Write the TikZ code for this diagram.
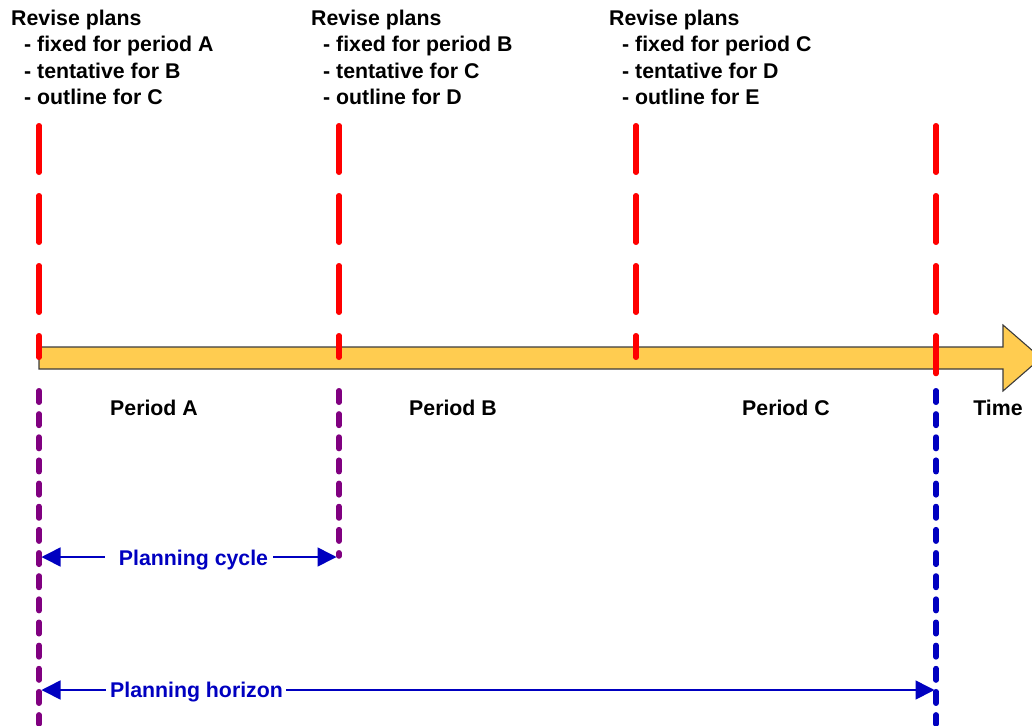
\documentclass[tikz,border=0pt]{standalone}
\usepackage{fontspec}
\setmainfont{Liberation Sans}
\usetikzlibrary{arrows.meta,calc}
\definecolor{arrowfill}{RGB}{255,204,80}
\definecolor{arrowline}{RGB}{60,60,60}
\definecolor{dkblue}{RGB}{0,0,192}
\definecolor{purp}{RGB}{128,0,128}
\begin{document}
\begin{tikzpicture}[x=1pt,y=-1pt,
  font=\fontsize{21.3}{26}\selectfont\bfseries,
  lbl/.style={inner sep=0pt, anchor=base west},
  plbl/.style={inner sep=0pt, anchor=base},
  blbl/.style={inner sep=0pt, anchor=base, text=dkblue},
  reddash/.style={draw=red, line width=5.5pt, line cap=round, dash pattern=on 46.5pt off 23.5pt},
  purpdash/.style={draw=purp, line width=5.5pt, line cap=round, dash pattern=on 11.5pt off 11.65pt},
  bluedash/.style={purpdash, draw=dkblue},
  spanarrow/.style={draw=dkblue, line width=1.6pt, -{Triangle[length=19pt,width=19pt]}},
  timearrow/.style={draw=arrowline, fill=arrowfill, line width=1.1pt, line join=miter}]
\useasboundingbox (0,0) rectangle (1032,725);

% header texts
\node[lbl] (h1a) at (11,26) {Revise plans};
\node[lbl] (h1b) at (24,52) {- fixed for period A};
\node[lbl] (h1c) at (24,78) {- tentative for B};
\node[lbl] (h1d) at (24,104) {- outline for C};
\node[lbl] (h2a) at (311,26) {Revise plans};
\node[lbl] (h2b) at (323,52) {- fixed for period B};
\node[lbl] (h2c) at (323,78) {- tentative for C};
\node[lbl] (h2d) at (323,104) {- outline for D};
\node[lbl] (h3a) at (609,26) {Revise plans};
\node[lbl] (h3b) at (622,52) {- fixed for period C};
\node[lbl] (h3c) at (622,78) {- tentative for D};
\node[lbl] (h3d) at (622,104) {- outline for E};

% time arrow
\draw[timearrow] (39,347) -- (1003,347) -- (1003,325) -- (1041,358)
  -- (1003,391) -- (1003,369) -- (39,369) -- cycle;

% period labels
\node[plbl] (pa) at (154,415) {Period A};
\node[plbl] (pb) at (453,415) {Period B};
\node[plbl] (pc) at (786,415) {Period C};
\node[plbl] (tm) at (998,415) {Time};

% red revision lines
\coordinate (r1t) at (39,125.75);  \coordinate (r1b) at (39,357.25);
\coordinate (r2t) at (339,125.75); \coordinate (r2b) at (339,357.25);
\coordinate (r3t) at (636,125.75); \coordinate (r3b) at (636,357.25);
\coordinate (r4t) at (936,125.75); \coordinate (r4b) at (936,373.5);
\draw[reddash] (r1t) -- (r1b);
\draw[reddash] (r2t) -- (r2b);
\draw[reddash] (r3t) -- (r3b);
\draw[reddash] (r4t) -- (r4b);

% lower lines
\coordinate (p1t) at (39,390.75);  \coordinate (p1b) at (39,724);
\coordinate (p2t) at (339,390.75); \coordinate (p2b) at (339,556);
\coordinate (b1t) at (936,390.75); \coordinate (b1b) at (936,724);
\draw[purpdash] (p1t) -- (p1b);
\draw[purpdash] (p2t) -- (p2b);
\draw[bluedash] (b1t) -- (b1b);

% planning cycle
\node[blbl] (cyc) at (193.5,565) {Planning cycle};
\coordinate (cL) at (41.5,557);
\coordinate (cR) at (336.5,557);
\draw[spanarrow] ($(cL -| cyc.west)+(-14,0)$) -- (cL);
\draw[spanarrow] ($(cR -| cyc.east)+(5,0)$) -- (cR);

% planning horizon
\node[blbl] (hor) at (196.5,697) {Planning horizon};
\coordinate (hL) at (41.5,690);
\coordinate (hR) at (934.5,690);
\draw[spanarrow] ($(hL -| hor.west)+(-4,0)$) -- (hL);
\draw[spanarrow] ($(hR -| hor.east)+(3,0)$) -- (hR);
\end{tikzpicture}
\end{document}
